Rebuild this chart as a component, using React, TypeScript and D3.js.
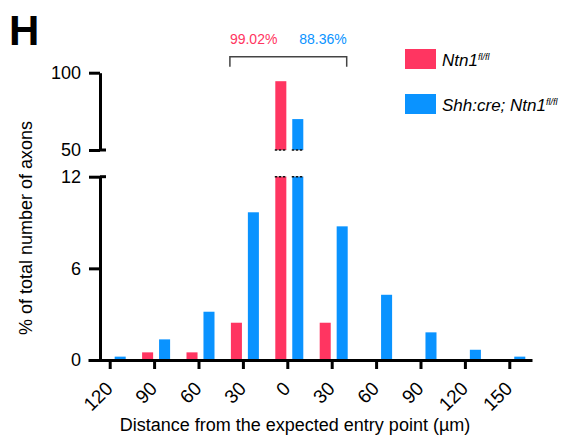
import React, { useEffect, useRef } from "react";
import * as d3 from "d3";

// distance bins (um) relative to the expected entry point
const distances = ["-120", "-90", "-60", "-30", "0", "30", "60", "90", "120", "150"];
const tickLabels = ["120", "90", "60", "30", "0", "30", "60", "90", "120", "150"];
const ntn1 = [0, 0.5, 0.5, 2.44, 94.5, 2.44, 0, 0, 0, 0];
const shhCre = [0.22, 1.35, 3.16, 9.67, 70, 8.75, 4.27, 1.81, 0.67, 0.22];
const seriesNames = ["Ntn1", "Shh:cre; Ntn1"];
const lowTicks = [0, 6, 12];
const highTicks = [50, 100];
const bracketLabels = ["99.02%", "88.36%"];

const PINK = "#ff3561";
const BLUE = "#0a93ff";
const FONT = "'Liberation Sans', Arial, Helvetica, sans-serif";

const App = () => {
  const svgRef = useRef<SVGSVGElement>(null);

  useEffect(() => {
    const svg = d3.select(svgRef.current);
    svg.selectAll("*").remove();

    const W = 567;
    const H = 442;
    svg.attr("width", W).attr("height", H);

    const axisX = 100;
    const x = d3.scaleBand().domain(distances).range([88, 532]);
    const sub = d3.scaleBand().domain(seriesNames).range([-12.5, 15.5]).paddingInner(0.35);
    const yLow = d3.scaleLinear().domain([0, 12]).range([360, 176.7]);
    const yHigh = d3.scaleLinear().domain([50, 100]).range([150, 72.7]);
    const colors = [PINK, BLUE];
    const series = [ntn1, shhCre];

    // bars
    series.forEach((vals, si) => {
      const g = svg.append("g");
      vals.forEach((v, i) => {
        if (v <= 0) return;
        const cx = x(distances[i])! + x.bandwidth() / 2;
        const bx = cx + sub(seriesNames[si])!;
        const bw = sub.bandwidth();
        const top = Math.min(v, 12);
        g.append("rect")
          .attr("x", bx)
          .attr("y", yLow(top))
          .attr("width", bw)
          .attr("height", yLow(0) - yLow(top))
          .attr("fill", colors[si]);
        if (v > 12) {
          g.append("rect")
            .attr("x", bx)
            .attr("y", yHigh(v))
            .attr("width", bw)
            .attr("height", yHigh(50) - yHigh(v))
            .attr("fill", colors[si]);
          // dashed ends at the axis break
          [yLow(12), yHigh(50)].forEach((yy) => {
            g.append("line")
              .attr("x1", bx - 0.5)
              .attr("x2", bx + bw + 0.5)
              .attr("y1", yy)
              .attr("y2", yy)
              .attr("stroke", "#111")
              .attr("stroke-width", 1.6)
              .attr("stroke-dasharray", "2.5,1.5");
          });
        }
      });
    });

    const styleAxis = (g: any) => {
      g.selectAll("path").attr("stroke", "#000").attr("stroke-width", 3);
      g.selectAll("line").attr("stroke", "#000").attr("stroke-width", 3);
      g.selectAll("text").attr("fill", "#000").style("font-family", FONT);
    };

    // x axis
    const xAxis = svg
      .append("g")
      .attr("transform", `translate(0,${yLow(0)})`)
      .call(
        d3
          .axisBottom(x)
          .tickSize(9)
          .tickSizeOuter(0)
          .tickFormat((_d, i) => tickLabels[i])
      );
    styleAxis(xAxis);
    xAxis
      .selectAll("text")
      .style("font-size", "19px")
      .attr("text-anchor", "end")
      .attr("y", 0)
      .attr("dy", "0.35em")
      .attr("transform", "translate(-1,25) rotate(-45)");

    // lower y axis
    const yLowAxis = svg
      .append("g")
      .attr("transform", `translate(${axisX},0)`)
      .call(d3.axisLeft(yLow).tickValues(lowTicks).tickSize(11).tickSizeOuter(0).tickPadding(8));
    styleAxis(yLowAxis);
    yLowAxis.selectAll("text").style("font-size", "18px");
    yLowAxis
      .append("line")
      .attr("x1", 0)
      .attr("x2", 6)
      .attr("y1", yLow(12))
      .attr("y2", yLow(12))
      .attr("stroke", "#000")
      .attr("stroke-width", 3);

    // upper y axis
    const yHighAxis = svg
      .append("g")
      .attr("transform", `translate(${axisX},0)`)
      .call(d3.axisLeft(yHigh).tickValues(highTicks).tickSize(11).tickSizeOuter(0).tickPadding(8));
    styleAxis(yHighAxis);
    yHighAxis.selectAll("text").style("font-size", "18px");
    yHighAxis
      .append("line")
      .attr("x1", 0)
      .attr("x2", 6)
      .attr("y1", yHigh(50))
      .attr("y2", yHigh(50))
      .attr("stroke", "#000")
      .attr("stroke-width", 3);

    // axis titles
    svg
      .append("text")
      .attr("transform", "translate(32,228) rotate(-90)")
      .attr("text-anchor", "middle")
      .style("font-family", FONT)
      .style("font-size", "18px")
      .text("% of total number of axons");

    svg
      .append("text")
      .attr("x", 295)
      .attr("y", 431)
      .attr("text-anchor", "middle")
      .style("font-family", FONT)
      .style("font-size", "18px")
      .text("Distance from the expected entry point (\u00b5m)");

    // panel letter
    svg
      .append("text")
      .attr("x", 9)
      .attr("y", 45)
      .style("font-family", FONT)
      .style("font-size", "42px")
      .style("font-weight", "bold")
      .text("H");

    // bracket over +-30 um
    const bL = x("-30")! + x.bandwidth() / 2 - 13.5;
    const bR = x("30")! + x.bandwidth() / 2 + 14.5;
    svg
      .append("path")
      .attr("d", `M${bL},66.7V56.7H${bR}V66.7`)
      .attr("fill", "none")
      .attr("stroke", "#444")
      .attr("stroke-width", 1.5);
    svg
      .append("text")
      .attr("x", bL)
      .attr("y", 44)
      .attr("fill", PINK)
      .style("font-family", FONT)
      .style("font-size", "14px")
      .text(bracketLabels[0]);
    svg
      .append("text")
      .attr("x", bR)
      .attr("y", 44)
      .attr("text-anchor", "end")
      .attr("fill", BLUE)
      .style("font-family", FONT)
      .style("font-size", "14px")
      .text(bracketLabels[1]);

    // legend
    const legendPrefix = ["Ntn1", "Shh:cre; Ntn1"];
    legendPrefix.forEach((name, i) => {
      const ly = 49 + i * 45;
      svg
        .append("rect")
        .attr("x", 405)
        .attr("y", ly)
        .attr("width", 31)
        .attr("height", 20)
        .attr("fill", colors[i]);
      const t = svg
        .append("text")
        .attr("x", 442)
        .attr("y", ly + 17)
        .style("font-family", FONT)
        .style("font-size", "17px")
        .style("font-style", "italic");
      t.append("tspan").text(name);
      t.append("tspan").attr("dy", -6).style("font-size", "9px").text("fl/fl");
    });
  }, []);

  return (
    <div>
      <svg ref={svgRef} style={{ position: "absolute", left: 0, top: 0, background: "#fff" }}></svg>
    </div>
  );
};

export default App;
